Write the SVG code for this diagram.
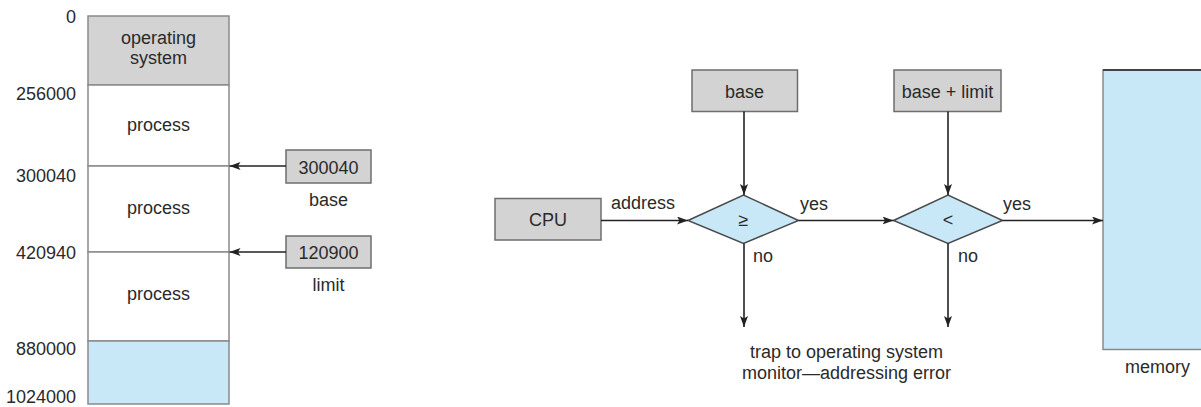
<svg xmlns="http://www.w3.org/2000/svg" width="1201" height="407" viewBox="0 0 1201 407">
  <style>
    text { font-family: "Liberation Sans", Arial, sans-serif; font-size: 18px; fill: #2a2a2a; }
    .mid { text-anchor: middle; }
    .end { text-anchor: end; }
    .reg { fill: #d3d3d3; stroke: #6e6e6e; stroke-width: 1.5; }
    .seg { fill: #ffffff; stroke: #8a8a8a; stroke-width: 1.5; }
    .os { fill: #d3d3d3; stroke: #8a8a8a; stroke-width: 1.5; }
    .free { fill: #c8e8f8; stroke: #8a8a8a; stroke-width: 1.5; }
    .dec { fill: #c8e8f8; stroke: #4a4a4a; stroke-width: 1.5; }
    .wire { fill: none; stroke: #222222; stroke-width: 1.6; marker-end: url(#head); }
  </style>
  <defs>
    <marker id="head" markerUnits="userSpaceOnUse" markerWidth="12" markerHeight="10" refX="11" refY="4" orient="auto">
      <path d="M0,0 L11,4 L0,8 L2.5,4 Z" fill="#222222"/>
    </marker>
  </defs>

  <!-- memory map with address marks -->
  <g id="memory-map">
    <rect class="os" x="88" y="16" width="141" height="69"/>
    <rect class="seg" x="88" y="85" width="141" height="81"/>
    <rect class="seg" x="88" y="166" width="141" height="86"/>
    <rect class="seg" x="88" y="252" width="141" height="89"/>
    <rect class="free" x="88" y="341" width="141" height="63"/>
    <text class="mid" x="158.5" y="44">operating</text>
    <text class="mid" x="158.5" y="64">system</text>
    <text class="mid" x="158.5" y="131">process</text>
    <text class="mid" x="158.5" y="214">process</text>
    <text class="mid" x="158.5" y="300">process</text>
    <text class="end" x="76" y="23">0</text>
    <text class="end" x="76" y="100">256000</text>
    <text class="end" x="76" y="181.5">300040</text>
    <text class="end" x="76" y="258.5">420940</text>
    <text class="end" x="76" y="355">880000</text>
    <text class="end" x="76" y="403">1024000</text>
  </g>

  <g id="base-register">
    <rect class="reg" x="286" y="150" width="85" height="33"/>
    <text class="mid" x="328.5" y="173.5">300040</text>
    <text class="mid" x="328.5" y="206">base</text>
  </g>

  <g id="limit-register">
    <rect class="reg" x="286" y="236" width="85" height="32"/>
    <text class="mid" x="328.5" y="258.5">120900</text>
    <text class="mid" x="328.5" y="291">limit</text>
  </g>

  <!-- hardware address check -->
  <g id="cpu">
    <rect class="reg" x="495" y="198.5" width="106" height="41.5"/>
    <text class="mid" x="548" y="225.5">CPU</text>
  </g>

  <g id="base">
    <rect class="reg" x="692" y="70" width="105.5" height="41.5"/>
    <text class="mid" x="744.5" y="97.5">base</text>
  </g>

  <g id="base-plus-limit">
    <rect class="reg" x="894" y="70" width="107" height="41.5"/>
    <text class="mid" x="947.5" y="97.5">base + limit</text>
  </g>

  <g id="check-lower">
    <polygon class="dec" points="688,220.5 743.5,195 798.5,220.5 743.5,243.5"/>
    <text class="mid" x="743.5" y="226">≥</text>
  </g>

  <g id="check-upper">
    <polygon class="dec" points="893.5,220.5 948,195 1002.5,220.5 948,243.5"/>
    <text class="mid" x="948" y="226">&lt;</text>
  </g>

  <g id="memory">
    <rect x="1103" y="70" width="110" height="279.5" fill="#c8e8f8" stroke="#8a8a8a" stroke-width="1.5"/>
    <line x1="1103" y1="70" x2="1201" y2="70" stroke="#222222" stroke-width="1.6"/>
    <text class="mid" x="1157.5" y="372.5">memory</text>
  </g>

  <g id="trap">
    <text class="mid" x="846.5" y="358">trap to operating system</text>
    <text class="mid" x="846.5" y="379">monitor—addressing error</text>
  </g>

  <g id="connectors">
    <line class="wire" x1="286" y1="166" x2="229.5" y2="166"/>
    <line class="wire" x1="286" y1="252" x2="229.5" y2="252"/>
    <line class="wire" x1="601" y1="220.5" x2="688" y2="220.5"/>
    <line class="wire" x1="744" y1="111.5" x2="744" y2="195"/>
    <line class="wire" x1="798.5" y1="220.5" x2="893.5" y2="220.5"/>
    <line class="wire" x1="948" y1="111.5" x2="948" y2="195"/>
    <line class="wire" x1="1002.5" y1="220.5" x2="1103" y2="220.5"/>
    <line class="wire" x1="744" y1="243.5" x2="744" y2="327"/>
    <line class="wire" x1="948" y1="243.5" x2="948" y2="327"/>
    <text x="611" y="209">address</text>
    <text x="800" y="210">yes</text>
    <text x="753" y="262">no</text>
    <text x="1003" y="210">yes</text>
    <text x="958" y="262">no</text>
  </g>
</svg>
